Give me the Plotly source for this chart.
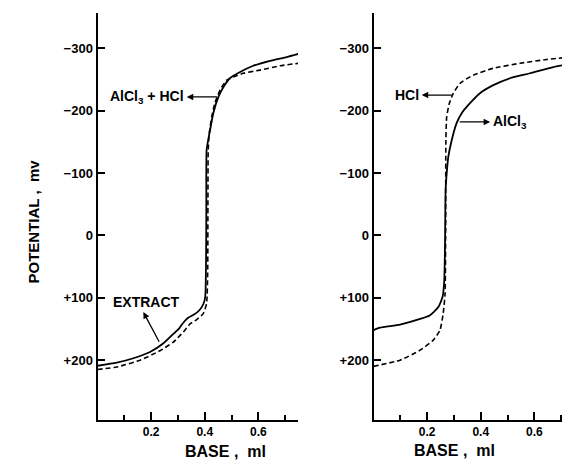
import plotly.graph_objects as go

# ---- data ----
left_solid_x = [0, 0.072, 0.134, 0.196, 0.246, 0.283, 0.305, 0.32, 0.338, 0.36, 0.38, 0.395, 0.402,
                0.405, 0.406, 0.407, 0.413, 0.42, 0.432, 0.451, 0.47, 0.494, 0.532, 0.581, 0.644, 0.706, 0.75]
left_solid_y = [209, 204, 197, 187, 173, 158, 149, 140, 132, 127, 120, 110, 98,
                40, -40, -137, -153, -169, -196, -222, -238, -252, -262, -272, -280, -286, -291]

left_dash_x = [0, 0.072, 0.159, 0.233, 0.283, 0.32, 0.345, 0.37, 0.395, 0.407, 0.411,
               0.412, 0.413, 0.417, 0.426, 0.438, 0.457, 0.482, 0.507, 0.544, 0.606, 0.681, 0.75]
left_dash_y = [215, 211, 200, 185, 171, 155, 142, 135, 125, 109, 60,
               -60, -137, -164, -190, -212, -233, -249, -254, -260, -265, -272, -276]

right_solid_x = [0, 0.024, 0.099, 0.174, 0.211, 0.242, 0.258, 0.264, 0.267, 0.269, 0.273, 0.279,
                 0.292, 0.31, 0.329, 0.36, 0.397, 0.447, 0.509, 0.584, 0.671, 0.733]
right_solid_y = [152, 148, 143, 134, 128, 115, 98, 72, 8, -73, -99, -126,
                 -153, -180, -196, -212, -228, -241, -252, -260, -270, -275]

right_dash_x = [0, 0.099, 0.174, 0.223, 0.248, 0.26, 0.267, 0.269, 0.27, 0.273, 0.283, 0.298,
                0.323, 0.372, 0.447, 0.547, 0.646, 0.733]
right_dash_y = [210, 200, 184, 168, 152, 125, 93, 0, -153, -190, -212, -228,
                -244, -257, -268, -276, -282, -286]

y_tickvals = [-300, -200, -100, 0, 100, 200]
y_ticktext = ["\u2212300", "\u2212200", "\u2212100", "0", "+100", "+200"]
x_tickvals = [0.2, 0.4, 0.6]
x_ticktext = ["0.2", "0.4", "0.6"]

# the page body has an 8px margin: size the figure so it ends at the window edge
OFF = 8
W, H = 570 - OFF, 470 - OFF
FONT = "Liberation Sans, Arial, sans-serif"

def px(xp):
    return (xp - OFF) / W

def py(yp):
    return (470 - yp) / H

fig = go.Figure()
line_solid = dict(color="black", width=1.8, shape="spline", smoothing=0.5)
line_dash = dict(color="black", width=1.6, dash="5px,3px", shape="spline", smoothing=0.5)

fig.add_trace(go.Scatter(x=left_solid_x, y=left_solid_y, mode="lines", line=line_solid,
                         xaxis="x", yaxis="y", showlegend=False))
fig.add_trace(go.Scatter(x=left_dash_x, y=left_dash_y, mode="lines", line=line_dash,
                         xaxis="x", yaxis="y", showlegend=False))
fig.add_trace(go.Scatter(x=right_solid_x, y=right_solid_y, mode="lines", line=line_solid,
                         xaxis="x2", yaxis="y2", showlegend=False))
fig.add_trace(go.Scatter(x=right_dash_x, y=right_dash_y, mode="lines", line=line_dash,
                         xaxis="x2", yaxis="y2", showlegend=False))

yr = [296, -356.6]
ydom = [py(420), py(13)]

xtickfont = dict(family=FONT, size=12, color="black", weight="bold")
ytickfont = dict(family=FONT, size=13, color="black", weight="bold")

def xaxis_cfg(dom, rng, anchor):
    return dict(domain=dom, range=rng, anchor=anchor, showgrid=False, zeroline=False,
                automargin=False,
                showline=True, linecolor="black", linewidth=2,
                tickvals=x_tickvals, ticktext=x_ticktext, ticks="inside", ticklen=8,
                tickwidth=1.5, tickcolor="black", tickfont=xtickfont,
                minor=dict(ticks="inside", ticklen=5, tickwidth=1.5, tickcolor="black",
                           tickvals=[0.1, 0.3, 0.5, 0.7]))

def yaxis_cfg(anchor):
    return dict(domain=ydom, range=yr, anchor=anchor, showgrid=False, zeroline=False,
                automargin=False,
                showline=True, linecolor="black", linewidth=2,
                tickvals=y_tickvals, ticktext=y_ticktext, ticks="inside", ticklen=7,
                tickwidth=1.5, tickcolor="black", tickfont=ytickfont)

fig.update_layout(
    width=W, height=H,
    margin=dict(l=0, r=0, t=0, b=0),
    paper_bgcolor="white", plot_bgcolor="white",
    xaxis=xaxis_cfg([px(97.5), px(298)], [0, 0.748], "y"),
    yaxis=yaxis_cfg("x"),
    xaxis2=xaxis_cfg([px(373.5), 1.0], [0, 0.733], "y2"),
    yaxis2=yaxis_cfg("x2"),
)

lab = dict(family=FONT, size=14, color="black", weight="bold")
ann = []
# axis titles
ann.append(dict(text="POTENTIAL ,  mv", x=px(22), y=py(222), xref="paper", yref="paper",
                showarrow=False, textangle=-90, font=dict(family=FONT, size=15, color="black", weight="bold")))
ann.append(dict(text="BASE ,  ml", x=px(183), y=py(462), xref="paper", yref="paper",
                showarrow=False, font=dict(family=FONT, size=16, color="black", weight="bold")))
ann.append(dict(text="BASE ,  ml", x=px(497), y=py(461), xref="paper", yref="paper",
                showarrow=False, font=dict(family=FONT, size=16, color="black", weight="bold")))

# arrows (head, tail)
def arrow(xr, yr_, x, y, ax, ay):
    return dict(text="", xref=xr, yref=yr_, axref=xr, ayref=yr_, x=x, y=y, ax=ax, ay=ay,
                showarrow=True, arrowhead=2, arrowsize=1.0, arrowwidth=1.3, arrowcolor="black",
                standoff=0, startstandoff=0)

ann.append(arrow("x", "y", 0.333, -222, 0.451, -222))
ann.append(dict(text="AlCl<sub>3</sub> + HCl", x=0.329, y=-222, xref="x", yref="y", xanchor="right",
                showarrow=False, font=lab))
ann.append(arrow("x", "y", 0.171, 123, 0.233, 173))
ann.append(dict(text="EXTRACT", x=0.183, y=106, xref="x", yref="y", xanchor="center",
                showarrow=False, font=lab))
ann.append(arrow("x2", "y2", 0.18, -225, 0.298, -225))
ann.append(dict(text="HCl", x=0.177, y=-225, xref="x2", yref="y2", xanchor="right",
                showarrow=False, font=lab))
ann.append(arrow("x2", "y2", 0.435, -182, 0.316, -182))
ann.append(dict(text="AlCl<sub>3</sub>", x=0.438, y=-182, xref="x2", yref="y2", xanchor="left",
                showarrow=False, font=lab))

fig.update_layout(annotations=ann)
fig.write_html("out.html")
